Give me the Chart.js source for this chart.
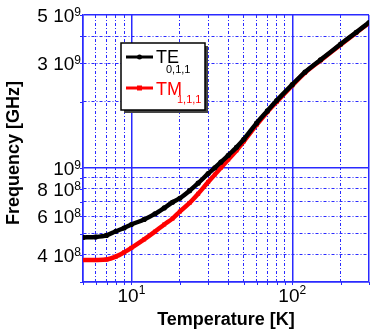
<!DOCTYPE html>
<html><head><meta charset="utf-8">
<script src="https://cdn.jsdelivr.net/npm/chart.js@4/dist/chart.umd.min.js"></script>
<style>html,body{margin:0;padding:0;background:#fff}#wrap{width:374px;height:330px}</style>
</head><body><div id="wrap"><canvas id="c" width="374" height="330"></canvas></div>
<script>
const temperatures = [5,6,7,8,9,10,12,14,16,18,20,23,26,30,33,36,40,45,50,60,70,80,100,120,150,200,250,300];
const te011 = [4.8e8,4.82e8,4.9e8,5.12e8,5.3e8,5.5e8,5.8e8,6.15e8,6.55e8,6.95e8,7.25e8,7.85e8,8.5e8,9.4e8,1.0e9,1.06e9,1.14e9,1.24e9,1.35e9,1.6e9,1.82e9,2.03e9,2.4e9,2.74e9,3.12e9,3.68e9,4.17e9,4.62e9];
const tm111 = [3.78e8,3.78e8,3.8e8,3.92e8,4.1e8,4.3e8,4.7e8,5.1e8,5.5e8,5.85e8,6.3e8,6.9e8,7.6e8,8.6e8,9.3e8,1.0e9,1.09e9,1.2e9,1.32e9,1.57e9,1.8e9,2.0e9,2.38e9,2.72e9,3.1e9,3.66e9,4.15e9,4.6e9];
const seriesNames = ["TE", "TM"];
const seriesSubscripts = ["0,1,1", "1,1,1"];
const xGridValues = [5,6,7,8,9,10,20,30,40,50,60,70,80,90,100,200,300];
const yGridValues = [3e8,4e8,5e8,6e8,7e8,8e8,9e8,1e9,2e9,3e9,4e9,5e9];
const xTickValues = [10, 100];
const xTickBase = ["10", "10"];
const xTickExp = ["1", "2"];
const yTickValues = [5e9, 3e9, 1e9, 8e8, 6e8, 4e8];
const yTickBase = ["5 10", "3 10", "10", "8 10", "6 10", "4 10"];
const yTickExp = ["9", "9", "9", "8", "8", "8"];
const xTitle = "Temperature [K]";
const yTitle = "Frequency [GHz]";

const FONT = '"Liberation Sans", Arial, sans-serif';
const GRID = '#2a2aff';
function isMajor(v, lo, hi){
  const l = Math.log10(v);
  return Math.abs(l - Math.round(l)) < 1e-9 || v === lo || v === hi;
}

const labelsPlugin = {
  id: 'labels',
  afterDraw(chart){
    const c = chart.ctx, xs = chart.scales.x, ys = chart.scales.y, a = chart.chartArea;
    c.save();
    c.strokeStyle = GRID; c.lineWidth = 1;
    xGridValues.forEach(v => { const px = Math.round(xs.getPixelForValue(v)) + 0.5; c.beginPath(); c.moveTo(px, a.bottom); c.lineTo(px, a.bottom + 3); c.stroke(); });
    yGridValues.forEach(v => { const py = Math.round(ys.getPixelForValue(v)) + 0.5; c.beginPath(); c.moveTo(a.left - 3, py); c.lineTo(a.left, py); c.stroke(); });
    c.fillStyle = '#000';
    yTickValues.forEach((v, i) => {
      const py = ys.getPixelForValue(v);
      c.font = '12px ' + FONT;
      const ew = c.measureText(yTickExp[i]).width;
      const right = a.left - 2;
      c.textAlign = 'right'; c.textBaseline = 'alphabetic';
      c.fillText(yTickExp[i], right, py + 1);
      c.font = '19px ' + FONT;
      c.fillText(yTickBase[i], right - ew, py + 7);
    });
    xTickValues.forEach((v, i) => {
      const px = xs.getPixelForValue(v);
      c.font = '19px ' + FONT;
      const bw = c.measureText(xTickBase[i]).width;
      c.font = '12px ' + FONT;
      const ew = c.measureText(xTickExp[i]).width;
      const start = px - (bw + ew) / 2;
      c.textAlign = 'left'; c.textBaseline = 'alphabetic';
      c.font = '19px ' + FONT;
      c.fillText(xTickBase[i], start, a.bottom + 20);
      c.font = '12px ' + FONT;
      c.fillText(xTickExp[i], start + bw, a.bottom + 12);
    });
    c.font = 'bold 18px ' + FONT;
    c.textAlign = 'center'; c.textBaseline = 'middle';
    c.fillText(xTitle, (a.left + a.right) / 2, 320);
    c.save();
    c.translate(14, 153);
    c.rotate(-Math.PI / 2);
    c.fillText(yTitle, 0, 0);
    c.restore();
    const bx = 121, by = 43, bw2 = 84, bh = 67;
    c.fillStyle = '#444';
    c.fillRect(bx + 3, by + 3, bw2, bh);
    c.fillStyle = '#fff';
    c.fillRect(bx, by, bw2, bh);
    c.strokeStyle = '#000'; c.lineWidth = 1.5;
    c.strokeRect(bx, by, bw2, bh);
    const rows = [
      {y: 57, color: '#000', base: 63, sx: 166, sb: 73, pt: 'circle'},
      {y: 88, color: '#ff0000', base: 95, sx: 177, sb: 103, pt: 'rect'}
    ];
    rows.forEach((r, i) => {
      c.strokeStyle = r.color; c.lineWidth = 3;
      c.beginPath(); c.moveTo(126, r.y); c.lineTo(153, r.y); c.stroke();
      c.fillStyle = r.color;
      if (r.pt === 'circle') { c.beginPath(); c.arc(139.5, r.y, 2.5, 0, Math.PI * 2); c.fill(); }
      else c.fillRect(137, r.y - 2.5, 5, 5);
      c.textAlign = 'left'; c.textBaseline = 'alphabetic';
      c.font = '18px ' + FONT;
      c.fillText(seriesNames[i], 156, r.base);
      c.font = '11px ' + FONT;
      c.fillText(seriesSubscripts[i], r.sx, r.sb);
    });
    c.restore();
  }
};

const xLo = xGridValues[0], xHi = xGridValues[xGridValues.length - 1];
const yLo = yGridValues[0], yHi = yGridValues[yGridValues.length - 1];

new Chart(document.getElementById('c'), {
  type: 'line',
  data: {
    datasets: [
      { label: seriesNames[0] + seriesSubscripts[0], data: temperatures.map((t, i) => ({x: t, y: te011[i]})),
        borderColor: '#000', backgroundColor: '#000', borderWidth: 4.5, pointRadius: 2.6, pointBorderWidth: 0, pointStyle: 'circle', tension: 0.3 },
      { label: seriesNames[1] + seriesSubscripts[1], data: temperatures.map((t, i) => ({x: t, y: tm111[i]})),
        borderColor: '#ff0000', backgroundColor: '#ff0000', borderWidth: 4.5, pointRadius: 2.8, pointBorderWidth: 0, pointStyle: 'rect', tension: 0.3 }
    ]
  },
  options: {
    responsive: false, animation: false, devicePixelRatio: 1,
    layout: { padding: { left: 83, right: 5, top: 15, bottom: 48 } },
    plugins: { legend: { display: false }, tooltip: { enabled: false } },
    scales: {
      x: {
        type: 'logarithmic', min: xLo, max: xHi,
        afterBuildTicks: s => { s.ticks = xGridValues.map(v => ({value: v})); },
        ticks: { display: false },
        grid: { drawTicks: false, color: GRID, lineWidth: ctx => (ctx.tick && isMajor(ctx.tick.value, xLo, xHi)) ? 1.5 : 1 },
        border: { display: true, color: GRID, width: 1.5, dash: ctx => (ctx.tick && isMajor(ctx.tick.value, xLo, xHi)) ? [] : [3, 2, 1, 2] }
      },
      y: {
        type: 'logarithmic', min: yLo, max: yHi,
        afterBuildTicks: s => { s.ticks = yGridValues.map(v => ({value: v})); },
        ticks: { display: false },
        grid: { drawTicks: false, color: GRID, lineWidth: ctx => (ctx.tick && isMajor(ctx.tick.value, yLo, yHi)) ? 1.5 : 1 },
        border: { display: true, color: GRID, width: 1.5, dash: ctx => (ctx.tick && isMajor(ctx.tick.value, yLo, yHi)) ? [] : [3, 2, 1, 2] }
      }
    }
  },
  plugins: [labelsPlugin]
});
</script></body></html>
